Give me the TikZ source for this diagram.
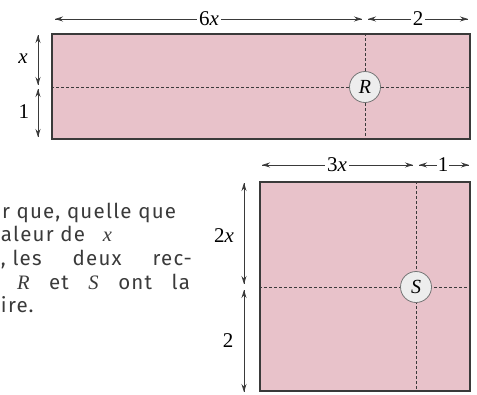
\documentclass[tikz,border=0pt]{standalone}
\usepackage{fontspec}
\setmainfont{Liberation Serif}
\newfontfamily\txtfont[LetterSpace=6]{Fira Sans}
\usetikzlibrary{arrows.meta}
\definecolor{rose}{HTML}{E8C2CA}
\definecolor{ink}{HTML}{3A3A3A}
\tikzset{
  panel/.style={draw=ink, line width=1.2pt, fill=rose, inner sep=0pt},
  fold/.style={draw=ink, line width=0.7pt, dash pattern=on 3pt off 2pt},
  badge/.style={circle, draw=ink!70, line width=0.8pt, fill=white!93!black, minimum size=31pt, inner sep=0pt, font=\fontsize{20}{20}\selectfont\itshape},
  dim/.style={draw=ink, line width=0.7pt, -{Stealth[length=8pt,width=5pt]}},
  dimlabel/.style={fill=white, inner sep=2pt, font=\fontsize{21}{21}\selectfont},
  sidelabel/.style={font=\fontsize{21}{21}\selectfont, inner sep=0pt},
  prose/.style={anchor=base west, inner sep=0pt, outer sep=0pt, text=ink, font=\txtfont\fontsize{20.5}{23}\selectfont}
}
\begin{document}
\begin{tikzpicture}[x=1pt,y=-1pt]
\useasboundingbox (0,0) rectangle (477,394);
% Rectangle R
\node[panel, minimum width=418pt, minimum height=105pt] (rectR) at (261,86.5) {};
\coordinate (rH) at (365,87);
\draw[fold] (rectR.west |- rH) -- (rectR.east |- rH);
\draw[fold] (rectR.north -| rH) -- (rectR.south -| rH);
\node[badge] (cR) at (rH) {R};
% top dimensions R
\coordinate (a1) at (55,19);
\coordinate (a2) at (362,19);
\coordinate (a3) at (368,19);
\coordinate (a4) at (468,19);
\draw[dim] (a2) -- (a1);
\draw[dim] (a1) -- (a2);
\node[dimlabel] (l6x) at (209,19) {6\textit{x}};
\draw[dim] (a4) -- (a3);
\draw[dim] (a3) -- (a4);
\node[dimlabel] (l2) at (418,19) {2};
% side dimensions R
\coordinate (b1) at (38,35);
\coordinate (b2) at (38,85);
\coordinate (b3) at (38,89);
\coordinate (b4) at (38,137);
\draw[dim] (b2) -- (b1);
\draw[dim] (b1) -- (b2);
\draw[dim] (b4) -- (b3);
\draw[dim] (b3) -- (b4);
\node[sidelabel] (lx) at (23,59) {\textit{x}};
\node[sidelabel] (l1) at (24,112) {1};
% Square S
\node[panel, minimum width=210pt, minimum height=209pt] (rectS) at (365,286.5) {};
\coordinate (sH) at (416,287);
\draw[fold] (rectS.west |- sH) -- (rectS.east |- sH);
\draw[fold] (rectS.north -| sH) -- (rectS.south -| sH);
\node[badge] (cS) at (sH) {S};
% top dimensions S
\coordinate (c1) at (262,165);
\coordinate (c2) at (413,165);
\coordinate (c3) at (419,165);
\coordinate (c4) at (469,165);
\draw[dim] (c2) -- (c1);
\draw[dim] (c1) -- (c2);
\node[dimlabel] (l3x) at (337,165) {3\textit{x}};
\draw[dim] (c4) -- (c3);
\draw[dim] (c3) -- (c4);
\node[dimlabel, inner sep=1pt] (l1b) at (443,165) {1};
% side dimensions S
\coordinate (d1) at (244,183);
\coordinate (d2) at (244,284);
\coordinate (d3) at (244,290);
\coordinate (d4) at (244,392);
\draw[dim] (d2) -- (d1);
\draw[dim] (d1) -- (d2);
\draw[dim] (d4) -- (d3);
\draw[dim] (d3) -- (d4);
\node[sidelabel] (l2x) at (224,236) {2\textit{x}};
\node[sidelabel] (l2b) at (228,341) {2};
% prose (justified lines)
\node[prose] (t1) at (2,218) {r que, quelle que};
\node[prose] (t2) at (1,241) {\hbox to 111pt{aleur de\hfil {\rmfamily\itshape x}}};
\node[prose] (t3) at (1,265) {\hbox to 191pt{, les\hfil deux\hfil rec-}};
\node[prose] (t4) at (17,289) {\hbox to 173pt{{\rmfamily\itshape R}\hfil et\hfil {\rmfamily\itshape S}\hfil ont\hfil la}};
\node[prose] (t5) at (1,312) {ire.};
\end{tikzpicture}
\end{document}
